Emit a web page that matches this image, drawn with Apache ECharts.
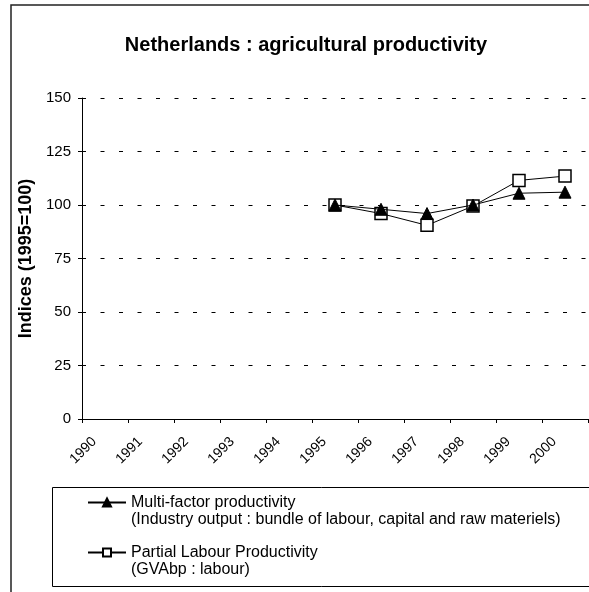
<!DOCTYPE html>
<html>
<head>
<meta charset="utf-8">
<script src="https://cdn.jsdelivr.net/npm/echarts@6/dist/echarts.min.js"></script>
<style>
  html, body { margin: 0; padding: 0; background: #fff; }
  #chart { width: 589px; height: 592px; }
</style>
</head>
<body>
<div id="chart"></div>
<script>
// categories along the x axis
const years = ['1990', '1991', '1992', '1993', '1994', '1995', '1996', '1997', '1998', '1999', '2000'];
// indices 1995=100, no data before 1995
const multiFactor = [null, null, null, null, null, 100, 98, 96, 100, 105.5, 106];
const labourProd = [null, null, null, null, null, 100, 96, 90.5, 99.5, 111.5, 113.5];
const yTicks = { min: 0, max: 150, step: 25 };

const font = '"Liberation Sans", Arial, sans-serif';

const chartDom = document.getElementById('chart');
const myChart = echarts.init(chartDom, null, { renderer: 'canvas' });

// legend texts (first line sits next to the icon, second line below it)
const legendText = {
    mfp: 'Multi-factor productivity\n(Industry output : bundle of labour, capital and raw materiels)',
    plp: 'Partial Labour Productivity\n(GVAbp : labour)'
};

const option = {
    backgroundColor: '#fff',
    animation: false,
    title: {
        text: 'Netherlands : agricultural productivity',
        left: 301,
        textAlign: 'center',
        top: 30,
        textStyle: { fontFamily: font, fontSize: 20, fontWeight: 'bold', color: '#000' }
    },
    graphic: [
        // outer frame of the chart
        { type: 'rect', shape: { x: 11, y: 5, width: 600, height: 600 }, style: { fill: null, stroke: '#222', lineWidth: 1.5 }, silent: true },
        // legend frame
        { type: 'rect', shape: { x: 52.5, y: 487.5, width: 560, height: 99 }, style: { fill: null, stroke: '#000', lineWidth: 1 }, silent: true }
    ],
    grid: { left: 82, right: 1, top: 98, bottom: 173, containLabel: false },
    legend: {
        orient: 'vertical',
        left: 87,
        top: 477,
        itemWidth: 38,
        itemHeight: 10,
        itemGap: -1,
        padding: 0,
        textStyle: { fontFamily: font, fontSize: 16, color: '#000', lineHeight: 17 },
        data: ['mfp', 'plp'],
        formatter: function (name) {
            // blank line on top so the first line lines up with the icon
            return '\n' + legendText[name];
        }
    },
    xAxis: {
        type: 'category',
        data: years,
        boundaryGap: true,
        axisLine: { lineStyle: { color: '#000', width: 1 } },
        axisTick: { show: true, alignWithLabel: false, length: 4, lineStyle: { color: '#000' } },
        axisLabel: {
            rotate: 45, fontFamily: font, fontSize: 14, color: '#000',
            margin: 10, padding: [0, 15, 0, 0]
        },
        splitLine: { show: false }
    },
    yAxis: {
        type: 'value',
        min: yTicks.min,
        max: yTicks.max,
        interval: yTicks.step,
        name: 'Indices (1995=100)',
        nameLocation: 'middle',
        nameRotate: 90,
        nameGap: 45,
        nameTextStyle: { fontFamily: font, fontSize: 18, fontWeight: 'bold', color: '#000' },
        axisLine: { show: true, lineStyle: { color: '#000', width: 1 } },
        axisTick: { show: true, length: 4, lineStyle: { color: '#000' } },
        axisLabel: { fontFamily: font, fontSize: 15, color: '#000', margin: 11 },
        splitLine: { show: true, lineStyle: { color: '#000', type: [4, 14.5], width: 1 } }
    },
    series: [
        {
            name: 'mfp',
            type: 'line',
            data: multiFactor,
            symbol: 'triangle',
            symbolSize: 12,
            lineStyle: { color: '#000', width: 1 },
            itemStyle: { color: '#000', borderColor: '#000', borderWidth: 1 },
            z: 3
        },
        {
            name: 'plp',
            type: 'line',
            data: labourProd,
            symbol: 'rect',
            symbolSize: 12,
            lineStyle: { color: '#000', width: 1 },
            itemStyle: { color: '#fff', borderColor: '#000', borderWidth: 1.5 },
            z: 2
        }
    ]
};

myChart.setOption(option);
</script>
</body>
</html>
